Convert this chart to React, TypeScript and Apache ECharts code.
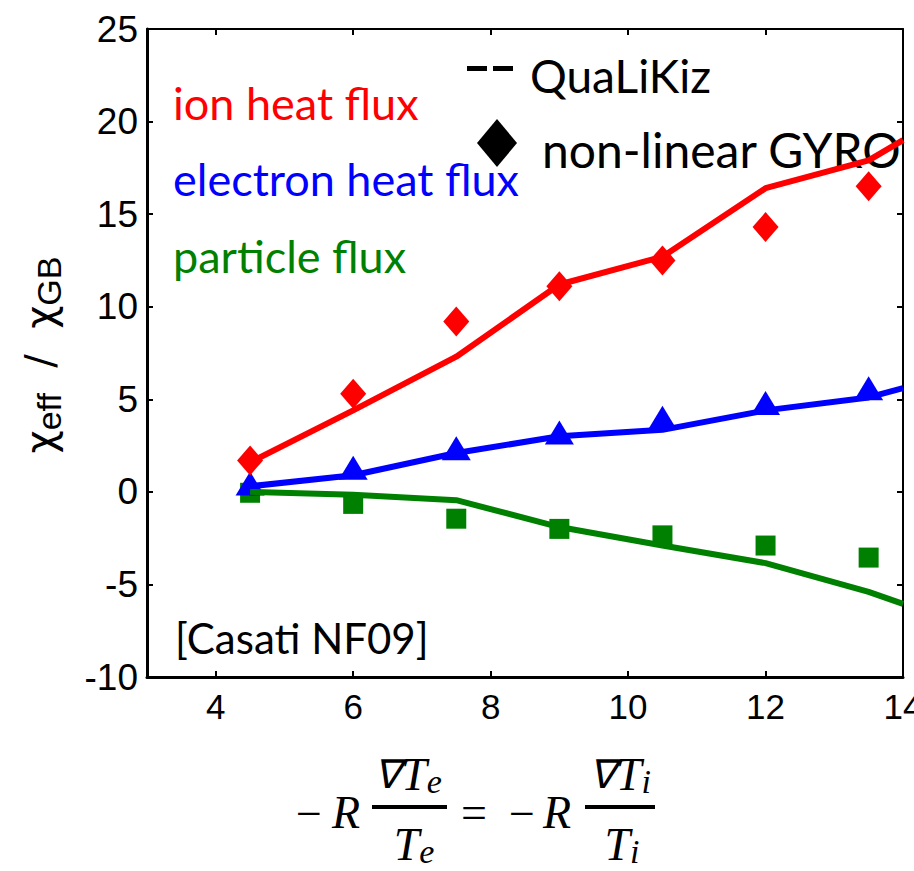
import React, { useEffect, useRef } from "react";
import * as echarts from "echarts";

const xGyro = [4.5, 6, 7.5, 9, 10.5, 12, 13.5];
const xQlk = [4.5, 6, 7.5, 9, 10.5, 12, 13.5, 14];
const ionQlk = [1.6, 4.4, 7.3, 11.2, 12.7, 16.4, 17.9, 19.0];
const ionGyro = [1.7, 5.3, 9.2, 11.1, 12.5, 14.3, 16.5];
const eleQlk = [0.3, 0.9, 2.1, 3.0, 3.35, 4.4, 5.1, 5.6];
const eleGyro = [0.45, 1.3, 2.35, 3.2, 4.0, 4.8, 5.6];
const parQlk = [0.0, -0.15, -0.45, -1.9, -2.9, -3.85, -5.4, -6.05];
const parGyro = [-0.05, -0.65, -1.45, -2.0, -2.35, -2.9, -3.55];
const xTicks = [4, 6, 8, 10, 12, 14];

const RED = "#ff0000";
const BLUE = "#0000ff";
const GREEN = "#008000";

const zip = (xs: number[], ys: number[]) => xs.map((x, i) => [x, ys[i]]);

export default function App() {
  const ref = useRef<HTMLDivElement>(null);
  useEffect(() => {
    if (!ref.current) return;
    const chart = echarts.init(ref.current, null, { renderer: "svg" });
    const annFont = "Lato";
    const mathFont = "Liberation Serif";
    const lineSeries = (data: number[], color: string) => ({
      type: "line",
      xAxisIndex: 0,
      yAxisIndex: 0,
      data: zip(xQlk, data),
      showSymbol: false,
      symbol: "none",
      lineStyle: { color, width: 6 },
      z: 3,
    });
    const scatterSeries = (data: number[], color: string, symbol: string, size: any) => ({
      type: "scatter",
      xAxisIndex: 0,
      yAxisIndex: 0,
      data: zip(xGyro, data),
      symbol,
      symbolSize: size,
      itemStyle: { color, opacity: 1 },
      z: 2,
    });
    const fracText = (x: number, y: number, sub: string) => ({
      type: "text",
      x,
      y,
      style: {
        text: "{t|T}{s|" + sub + "}",
        align: "center",
        verticalAlign: "middle",
        rich: {
          t: { fontFamily: mathFont, fontStyle: "italic", fontSize: 46, fill: "#000", lineHeight: 54 },
          s: { fontFamily: mathFont, fontStyle: "italic", fontSize: 34, fill: "#000", lineHeight: 54, padding: [14, 0, 0, 0] },
        },
      },
    });
    const numText = (x: number, y: number, sub: string) => ({
      type: "text",
      x,
      y,
      style: {
        text: "{n|∇}{t|T}{s|" + sub + "}",
        align: "center",
        verticalAlign: "middle",
        rich: {
          n: { fontFamily: mathFont, fontStyle: "italic", fontSize: 40, fill: "#000", lineHeight: 54 },
          t: { fontFamily: mathFont, fontStyle: "italic", fontSize: 46, fill: "#000", lineHeight: 54 },
          s: { fontFamily: mathFont, fontStyle: "italic", fontSize: 34, fill: "#000", lineHeight: 54, padding: [14, 0, 0, 0] },
        },
      },
    });
    const plain = (x: number, y: number, text: string, opts: any = {}) => ({
      type: "text",
      x,
      y,
      style: {
        text,
        fontFamily: mathFont,
        fontSize: 46,
        fill: "#000",
        align: "center",
        verticalAlign: "middle",
        ...opts,
      },
    });
    const ann = (x: number, y: number, text: string, fill: string, fontSize: number) => ({
      type: "text",
      x,
      y,
      style: { text, fontFamily: annFont, fontSize, fill, verticalAlign: "middle" },
    });
    chart.setOption({
      animation: false,
      backgroundColor: "#ffffff",
      grid: { left: 147, right: 11, top: 29, bottom: 194, containLabel: false, outerBoundsMode: "none" },
      xAxis: [
        {
          type: "value",
          min: 3,
          max: 14,
          axisLine: { onZero: false, lineStyle: { color: "#000", width: 3 } },
          axisTick: { inside: true, length: 6, customValues: xTicks, lineStyle: { color: "#000", width: 2 } },
          axisLabel: {
            customValues: xTicks,
            color: "#000",
            fontFamily: "Liberation Sans",
            fontSize: 35,
            margin: 12,
          },
          splitLine: { show: false },
        },
        {
          type: "value",
          position: "top",
          min: 3,
          max: 14,
          axisLine: { onZero: false, lineStyle: { color: "#000", width: 2 } },
          axisTick: { inside: true, length: 6, customValues: xTicks, lineStyle: { color: "#000", width: 2 } },
          axisLabel: { show: false },
          splitLine: { show: false },
        },
      ],
      yAxis: [
        {
          type: "value",
          min: -10,
          max: 25,
          interval: 5,
          axisLine: { onZero: false, lineStyle: { color: "#000", width: 3 } },
          axisTick: { inside: true, length: 6, lineStyle: { color: "#000", width: 2 } },
          axisLabel: {
            color: "#000",
            fontFamily: "Liberation Sans",
            fontSize: 37,
            margin: 9,
          },
          splitLine: { show: false },
        },
        {
          type: "value",
          position: "right",
          min: -10,
          max: 25,
          interval: 5,
          axisLine: { onZero: false, lineStyle: { color: "#000", width: 2 } },
          axisTick: { inside: true, length: 6, lineStyle: { color: "#000", width: 2 } },
          axisLabel: { show: false },
          splitLine: { show: false },
        },
      ],
      series: [
        scatterSeries(parGyro, GREEN, "rect", 20),
        scatterSeries(eleGyro, BLUE, "triangle", [29, 24]),
        scatterSeries(ionGyro, RED, "diamond", [26, 30]),
        lineSeries(parQlk, GREEN),
        lineSeries(eleQlk, BLUE),
        lineSeries(ionQlk, RED),
      ],
      graphic: [
        {
          type: "text",
          x: 40,
          y: 355,
          rotation: Math.PI / 2,
          style: {
            text: "{c|χ}{s|eff}{c|  /  χ}{s|GB}",
            align: "center",
            verticalAlign: "middle",
            rich: {
              c: { fontFamily: "DejaVu Sans", fontSize: 40, fill: "#000", lineHeight: 48 },
              s: { fontFamily: "Liberation Sans", fontSize: 34, fill: "#000", lineHeight: 48, padding: [18, 0, 0, 0] },
            },
          },
        },
        ann(173, 103, "ion heat flux", RED, 45),
        ann(173, 179, "electron heat flux", BLUE, 45),
        ann(173, 256, "particle flux", GREEN, 45),
        { type: "rect", shape: { x: 467, y: 66, width: 20, height: 5 }, style: { fill: "#000" } },
        { type: "rect", shape: { x: 493, y: 66, width: 20, height: 5 }, style: { fill: "#000" } },
        ann(530, 75, "QuaLiKiz", "#000", 46),
        {
          type: "polygon",
          shape: { points: [[497, 119], [517, 143], [497, 167], [477, 143]] },
          style: { fill: "#000" },
        },
        ann(542, 149, "non-linear GYRO", "#000", 48),
        ann(175, 638, "[Casati NF09]", "#000", 42),
        plain(309, 813, "−"),
        plain(346, 812, "R", { fontStyle: "italic" }),
        { type: "rect", shape: { x: 372, y: 805, width: 75, height: 4 }, style: { fill: "#000" } },
        numText(408, 774, "e"),
        fracText(414, 844, "e"),
        plain(474, 812, "="),
        plain(522, 813, "−"),
        plain(557, 812, "R", { fontStyle: "italic" }),
        { type: "rect", shape: { x: 585, y: 805, width: 70, height: 4 }, style: { fill: "#000" } },
        numText(620, 774, "i"),
        fracText(622, 844, "i"),
      ],
    });
    return () => chart.dispose();
  }, []);
  return (
    <div
      ref={ref}
      style={{ position: "absolute", left: 0, top: 0, width: 914, height: 871, background: "#fff" }}
    />
  );
}
